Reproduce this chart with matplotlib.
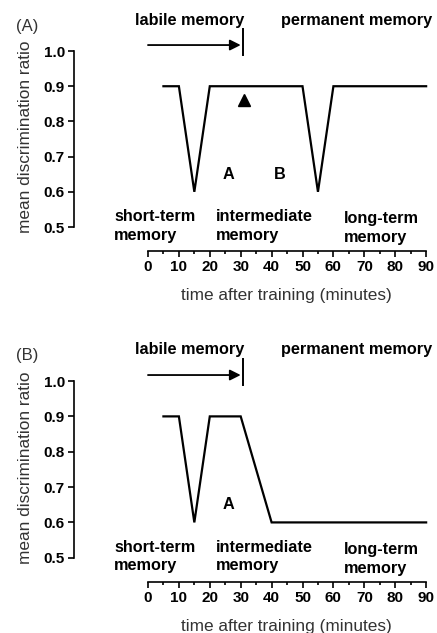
import matplotlib
matplotlib.use('Agg')
import matplotlib.pyplot as plt
from matplotlib.ticker import MultipleLocator

plt.rcParams['font.family'] = ['Liberation Sans', 'DejaVu Sans']

# panel A: two dips, recovery after each
time_a = [5, 10, 15, 20, 50, 55, 60, 90]
ratio_a = [0.9, 0.9, 0.6, 0.9, 0.9, 0.6, 0.9, 0.9]
# panel B: first dip, then decline to 0.6
time_b = [5, 10, 15, 20, 30, 40, 90]
ratio_b = [0.9, 0.9, 0.6, 0.9, 0.9, 0.6, 0.6]

y_ticks = [0.5, 0.6, 0.7, 0.8, 0.9, 1.0]
x_ticks = list(range(0, 91, 10))

# letters placed on the curves (x, y, text)
marks_a = [(26, 0.65, 'A'), (42.5, 0.65, 'B')]
marks_b = [(26, 0.65, 'A')]
triangle_a = (31, 0.86)

fig = plt.figure(figsize=(4.37, 6.33), dpi=100)
ax_a = fig.add_axes([0.3174, 0.5969, 0.6648, 0.3336])
ax_b = fig.add_axes([0.3174, 0.0742, 0.6648, 0.3350])

ANN = 11.7
TICK = 11


def draw_panel(ax, t, r, marks, tag):
    ax.plot(t, r, color='black', lw=1.6, solid_joinstyle='miter')
    ax.set_xlim(-3, 91)
    ax.set_ylim(0.42, 1.02)
    for s in ['top', 'right']:
        ax.spines[s].set_visible(False)
    ax.spines['left'].set_position(('data', -24))
    ax.spines['left'].set_bounds(0.5, 1.0)
    ax.spines['bottom'].set_position(('data', 0.432))
    ax.spines['bottom'].set_bounds(0, 90)
    for s in ['left', 'bottom']:
        ax.spines[s].set_linewidth(1.2)
    ax.set_yticks(y_ticks)
    ax.set_yticklabels([f'{v:.1f}' for v in y_ticks])
    ax.set_xticks(x_ticks)
    ax.xaxis.set_minor_locator(MultipleLocator(5))
    ax.tick_params(which='major', length=4, width=1.2, labelsize=TICK, pad=2.5)
    ax.tick_params(axis='x', which='minor', length=2.2, width=1.2)
    for lab in ax.get_xticklabels() + ax.get_yticklabels():
        lab.set_fontweight('bold')
    ax.patch.set_visible(False)

    ax.text(-0.391, 0.56, 'mean discrimination ratio', transform=ax.transAxes,
            rotation=90, ha='center', va='center', fontsize=12.4, color='#333333')
    ax.text(0.51, -0.19, 'time after training (minutes)', transform=ax.transAxes,
            ha='center', va='center', fontsize=12.4, color='#333333')
    ax.text(-0.385, 1.085, tag, transform=ax.transAxes, ha='center', va='center',
            fontsize=12, color='#333333')

    # labile / permanent memory header
    ax.annotate('', xy=(30, 1.017), xytext=(0, 1.017),
                arrowprops=dict(arrowstyle='-|>', color='black', lw=1.3,
                                mutation_scale=16, shrinkA=0, shrinkB=0),
                annotation_clip=False)
    ax.plot([30.6, 30.6], [0.99, 1.062], color='black', lw=1.4, clip_on=False)
    ax.text(13.6, 1.088, 'labile memory', ha='center', va='center',
            fontsize=ANN, fontweight='bold', clip_on=False)
    ax.text(67.4, 1.088, 'permanent memory', ha='center', va='center',
            fontsize=ANN, fontweight='bold', clip_on=False)

    # phase labels
    ax.text(-11, 0.503, 'short-term\nmemory', ha='left', va='center',
            fontsize=ANN, fontweight='bold', linespacing=1.3)
    ax.text(22, 0.503, 'intermediate\nmemory', ha='left', va='center',
            fontsize=ANN, fontweight='bold', linespacing=1.3)
    ax.text(63.5, 0.497, 'long-term\nmemory', ha='left', va='center',
            fontsize=ANN, fontweight='bold', linespacing=1.3)

    for x, y, s in marks:
        ax.text(x, y, s, ha='center', va='center', fontsize=ANN, fontweight='bold')


draw_panel(ax_a, time_a, ratio_a, marks_a, '(A)')
ax_a.plot([triangle_a[0]], [triangle_a[1]], marker='^', color='black',
          markersize=8, linestyle='none')
draw_panel(ax_b, time_b, ratio_b, marks_b, '(B)')

plt.savefig('out.png', dpi=100)
